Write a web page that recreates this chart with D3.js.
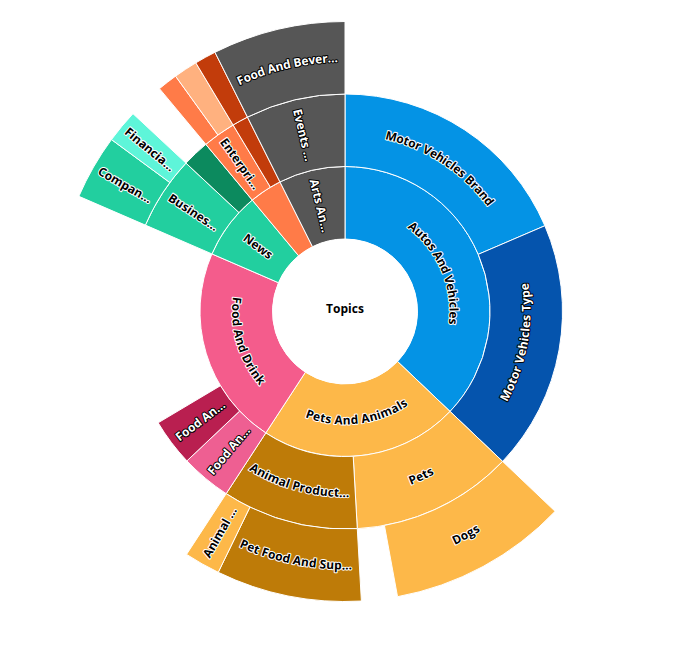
<!doctype html>
<html lang="en">

<head>
  <meta charset="utf-8">
  <title>Topics Sunburst</title>
  <script src="https://d3js.org/d3.v7.min.js"></script>
  <style>
    body {
      margin: 0;
      background: #fff;
    }

    text {
      font-family: "Open Sans", sans-serif;
      font-size: 12px;
      font-weight: bold;
    }
  </style>
</head>

<body>
  <svg id="chart" width="690" height="646"></svg>

  <script>
    // one entry per node: id, parent id, label as shown, value (share of topics)
    var ids = ["topics", "autos", "pets_animals", "food_drink", "news", "business_ind", "arts",
      "mv_brand", "mv_type", "pets", "animal_products", "food_a", "food_b", "business_news", "news_other",
      "enterprise", "industry", "events", "dogs", "pet_food", "animal_other", "companies", "financial",
      "ent_a", "ent_b", "industry_a", "food_bev"];
    var parents = ["", "topics", "topics", "topics", "topics", "topics", "topics",
      "autos", "autos", "pets_animals", "pets_animals", "food_drink", "food_drink", "news", "news",
      "business_ind", "business_ind", "arts", "pets", "animal_products", "animal_products", "business_news", "business_news",
      "enterprise", "enterprise", "industry", "events"];
    var labels = ["Topics", "Autos And Vehicles", "Pets And Animals", "Food And Drink", "News", "", "Arts An…",
      "Motor Vehicles Brand", "Motor Vehicles Type", "Pets", "Animal Product…", "Food An…", "Food An…", "Busines…", "",
      "Enterpri…", "", "Events …", "Dogs", "Pet Food And Sup…", "Animal …", "Compan…", "Financia…",
      "", "", "", "Food And Bever…"];
    var values = [100, 37.1, 22.1, 22.3, 7.45, 3.65, 7.4,
      18.55, 18.55, 12.0, 10.1, 3.75, 3.5, 5.45, 2.0,
      2.45, 1.2, 7.4, 10.0, 8.1, 2.0, 3.6, 1.85,
      1.12, 1.33, 1.2, 7.4];

    var fills = {
      topics: "#ffffff",
      autos: "#0493e5", mv_brand: "#0493e5", mv_type: "#0554ad",
      pets_animals: "#fdb849", pets: "#fdb849", dogs: "#fdb849", animal_other: "#fdb849",
      animal_products: "#be7b08", pet_food: "#be7b08",
      food_drink: "#f45c8c", food_a: "#ee5f92", food_b: "#b91f50",
      news: "#22cf9f", business_news: "#22cf9f", companies: "#22cf9f",
      news_other: "#0c8a5e", financial: "#5ef5d9",
      business_ind: "#ff7b48", enterprise: "#ff7b48", ent_a: "#ff7b48", ent_b: "#ffb17f",
      industry: "#c23c0b", industry_a: "#c23c0b",
      arts: "#565656", events: "#565656", food_bev: "#565656"
    };
    // slices whose label is drawn white with a dark outline
    var lightText = ["food_a", "food_b", "mv_type", "arts", "events", "food_bev"];

    var cx = 345, cy = 311.5;

    var rows = ids.map(function (id, i) {
      return { id: id, parent: parents[i], label: labels[i], value: values[i] };
    });

    var root = d3.stratify()
      .id(function (d) { return d.id; })
      .parentId(function (d) { return d.parent || null; })(rows);

    // every node carries its own value, children need not fill their parent
    root.each(function (d) { d.value = d.data.value; });
    d3.partition().size([2 * Math.PI, root.height + 1])(root);

    var radius = d3.scaleLinear().domain([0, root.height + 1]).range([0, 290]);

    var arc = d3.arc()
      .startAngle(function (d) { return d.x0; })
      .endAngle(function (d) { return d.x1; })
      .innerRadius(function (d) { return radius(d.y0); })
      .outerRadius(function (d) { return radius(d.y1); });

    var svg = d3.select("#chart");
    var g = svg.append("g").attr("transform", "translate(" + cx + "," + cy + ")");

    g.selectAll("path.slice")
      .data(root.descendants().slice(1))
      .join("path")
      .attr("class", "slice")
      .attr("d", arc)
      .attr("fill", function (d) { return fills[d.id]; })
      .attr("stroke", "#fff")
      .attr("stroke-width", 1);

    g.append("circle")
      .attr("r", radius(root.y1))
      .attr("fill", fills.topics);

    g.append("text")
      .attr("y", 1)
      .attr("text-anchor", "middle")
      .style("fill", "#000")
      .text(root.data.label);

    var labelled = root.descendants().filter(function (d) { return d.depth > 0 && d.data.label; });

    labelled.forEach(function (d, i) {
      var mid = (d.x0 + d.x1) / 2;
      var rMid = radius((d.y0 + d.y1) / 2);
      var thick = radius(d.y1) - radius(d.y0);
      var arcLen = (d.x1 - d.x0) * rMid;
      var light = lightText.indexOf(d.id) >= 0;

      var t = g.append("text")
        .attr("text-anchor", "middle")
        .style("fill", light ? "#fff" : "#000")
        .style("stroke", light ? "#000" : "#fff")
        .style("stroke-width", "2px")
        .style("stroke-linejoin", "round")
        .style("paint-order", "stroke");

      if (arcLen > 1.3 * thick) {
        // wide slice: label bends along the middle of the ring
        var span = 80 * Math.PI / 180;
        var bottom = mid > Math.PI / 2 && mid < 3 * Math.PI / 2;
        var a0 = bottom ? mid + span : mid - span;
        var a1 = bottom ? mid - span : mid + span;
        var pathD = "M" + (rMid * Math.sin(a0)) + "," + (-rMid * Math.cos(a0)) +
          "A" + rMid + "," + rMid + " 0 0 " + (bottom ? 0 : 1) + " " +
          (rMid * Math.sin(a1)) + "," + (-rMid * Math.cos(a1));
        g.append("path").attr("id", "lp" + i).attr("d", pathD).attr("fill", "none");
        t.append("textPath")
          .attr("href", "#lp" + i)
          .attr("startOffset", "50%")
          .append("tspan")
          .attr("dy", "0.35em")
          .text(d.data.label);
      } else {
        // narrow slice: label runs along the radius
        var deg = mid * 180 / Math.PI;
        var rot = mid > Math.PI ? deg + 90 : deg - 90;
        t.attr("transform", "translate(" + (rMid * Math.sin(mid)) + "," + (-rMid * Math.cos(mid)) + ") rotate(" + rot + ")")
          .attr("dy", "0.35em")
          .text(d.data.label);
      }
    });
  </script>
</body>

</html>
